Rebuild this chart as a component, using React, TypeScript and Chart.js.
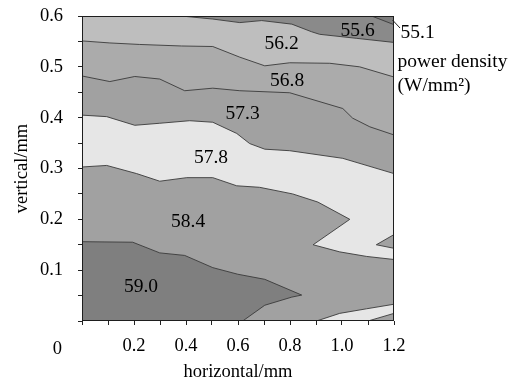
import React, { useEffect, useRef } from 'react';
import { Chart, registerables } from 'chart.js';

Chart.register(...registerables);

type P = [number, number];

// axis ranges (mm)
const X_MIN = 0;
const X_MAX = 1.2;
const Y_MIN = 0;
const Y_MAX = 0.6;

// tick labels
const xTickLabels = ['0.2', '0.4', '0.6', '0.8', '1.0', '1.2'];
const yTickLabels = ['0.1', '0.2', '0.3', '0.4', '0.5', '0.6'];
const originLabel = '0';

// contour levels (W/mm^2) and fill colours
const levels = ['55.1', '55.6', '56.2', '56.8', '57.3', '57.8', '58.4', '59.0'];
const levelColors = ['#7d7d7d', '#8a8a8a', '#bebebe', '#ababab', '#a1a1a1', '#e6e6e6', '#a1a1a1', '#7f7f7f'];

// contour boundary lines [horizontal, vertical]
const line551: P[] = [[1.114, 0.6], [1.2, 0.583]];
const line556: P[] = [[0.382, 0.6], [0.503, 0.594], [0.607, 0.587], [0.691, 0.591], [0.807, 0.584], [0.883, 0.569], [0.914, 0.564], [1.057, 0.556], [1.2, 0.548]];
const line562: P[] = [[0, 0.551], [0.107, 0.547], [0.222, 0.544], [0.383, 0.541], [0.503, 0.54], [0.607, 0.519], [0.703, 0.502], [0.799, 0.508], [0.953, 0.507], [1.068, 0.5], [1.2, 0.48]];
const line568: P[] = [[0, 0.482], [0.107, 0.471], [0.203, 0.481], [0.299, 0.476], [0.395, 0.453], [0.503, 0.458], [0.607, 0.453], [0.799, 0.449], [1.003, 0.418], [1.041, 0.399], [1.107, 0.382], [1.2, 0.366]];
const line573: P[] = [[0, 0.405], [0.095, 0.402], [0.203, 0.385], [0.299, 0.389], [0.414, 0.394], [0.503, 0.391], [0.595, 0.369], [0.645, 0.349], [0.703, 0.338], [0.799, 0.335], [1.003, 0.32], [1.2, 0.29]];
const line578: P[] = [[0, 0.303], [0.095, 0.306], [0.21, 0.29], [0.299, 0.275], [0.403, 0.282], [0.503, 0.282], [0.595, 0.266], [0.683, 0.263], [0.81, 0.25], [0.907, 0.234], [1.03, 0.2], [0.889, 0.15], [0.991, 0.136], [1.095, 0.127], [1.2, 0.121]];
const line584: P[] = [[0, 0.156], [0.195, 0.155], [0.299, 0.134], [0.395, 0.129], [0.503, 0.105], [0.599, 0.092], [0.703, 0.082], [0.845, 0.051], [0.807, 0.047], [0.703, 0.031], [0.618, 0]];
const lineIsland578: P[] = [[0.902, 0], [0.991, 0.015], [1.094, 0.024], [1.2, 0.033]];
const lineCorner573: P[] = [[1.1, 0], [1.2, 0.015]];
const lineWedge584: P[] = [[1.2, 0.17], [1.132, 0.15], [1.2, 0.143]];

// in-plot level labels
const labelText = ['55.6', '56.2', '56.8', '57.3', '57.8', '58.4', '59.0'];
const labelX = [1.06, 0.768, 0.789, 0.618, 0.496, 0.408, 0.227];
const labelY = [0.5715, 0.5443, 0.472, 0.407, 0.32, 0.195, 0.0677];

const outsideLevel = '55.1';
const legendTitle = ['power density', '(W/mm²)'];
const xTitle = 'horizontal/mm';
const yTitle = 'vertical/mm';

const FONT = "'Liberation Serif', 'Times New Roman', serif";
const FS = 18.5;
const FS_LABEL = 19.5;

const TL: P = [X_MIN, Y_MAX];
const TR: P = [X_MAX, Y_MAX];
const BR: P = [X_MAX, Y_MIN];
const BL: P = [X_MIN, Y_MIN];

const toXY = (pts: P[]) => pts.map(([x, y]) => ({ x, y }));

// painter's layers: back to front
const layers: { pts: P[]; color: string }[] = [
  { pts: [BL, BR, TR, TL], color: levelColors[7] },
  { pts: [...line584, BR, TR, TL], color: levelColors[6] },
  { pts: [...line578, TR, TL], color: levelColors[5] },
  { pts: [...line573, TR, TL], color: levelColors[4] },
  { pts: [...line568, TR, TL], color: levelColors[3] },
  { pts: [...line562, TR, TL], color: levelColors[2] },
  { pts: [...line556, TR], color: levelColors[1] },
  { pts: [...line551, TR], color: levelColors[0] },
  { pts: [...lineIsland578, BR], color: levelColors[5] },
  { pts: [...lineCorner573, BR], color: levelColors[4] },
  { pts: lineWedge584, color: levelColors[6] },
];

const contourLines: P[][] = [line551, line556, line562, line568, line573, line578, line584, lineIsland578, lineCorner573, lineWedge584];

const textPlugin = {
  id: 'contourText',
  afterDatasetsDraw(chart: any) {
    const { ctx, chartArea: a, scales } = chart;
    const xs = scales.x;
    const ys = scales.y;
    ctx.save();
    ctx.strokeStyle = '#1e1e1e';
    ctx.lineWidth = 1;
    const l = Math.round(a.left) + 0.5;
    const t = Math.round(a.top) + 0.5;
    const r = Math.round(a.right) - 0.5;
    const b = Math.round(a.bottom) - 0.5;
    ctx.strokeRect(l, t, r - l, b - t);

    ctx.font = `${FS_LABEL}px ${FONT}`;
    ctx.fillStyle = '#000';
    ctx.textAlign = 'center';
    ctx.textBaseline = 'middle';
    labelText.forEach((txt, i) => {
      ctx.fillText(txt, xs.getPixelForValue(labelX[i]), ys.getPixelForValue(labelY[i]));
    });

    ctx.textAlign = 'left';
    ctx.textBaseline = 'alphabetic';
    ctx.fillText(outsideLevel, a.right + 6.5, a.top + 22);
    ctx.beginPath();
    ctx.moveTo(a.right - 1.5, a.top + 4);
    ctx.lineTo(a.right + 6, a.top + 12);
    ctx.stroke();
    ctx.fillText(legendTitle[0], a.right + 3.5, a.top + 50.5);
    ctx.fillText(legendTitle[1], a.right + 3.5, a.top + 75);

    ctx.font = `${FS}px ${FONT}`;
    ctx.textAlign = 'center';
    ctx.fillText(originLabel, xs.getPixelForValue(X_MIN) - 24.6, a.bottom + 32.5);
    ctx.restore();
  },
};

export default function App() {
  const ref = useRef<HTMLCanvasElement>(null);
  useEffect(() => {
    if (!ref.current) return;
    const datasets: any[] = [];
    contourLines.forEach((pts) => {
      datasets.push({
        data: toXY(pts),
        showLine: true,
        fill: false,
        borderColor: '#3a3a3a',
        borderWidth: 0.9,
        pointRadius: 0,
        tension: 0,
        order: 0,
      });
    });
    layers.forEach((ly, i) => {
      datasets.push({
        data: toXY(ly.pts),
        showLine: true,
        fill: 'shape',
        backgroundColor: ly.color,
        borderWidth: 0,
        borderColor: ly.color,
        pointRadius: 0,
        tension: 0,
        order: layers.length + 1 - i,
      });
    });
    const tickFont = { family: FONT, size: FS };
    const chart = new Chart(ref.current, {
      type: 'scatter',
      data: { datasets },
      plugins: [textPlugin],
      options: {
        animation: false,
        responsive: true,
        maintainAspectRatio: false,
        layout: { padding: { left: 0, right: 123, top: 16, bottom: 0 } },
        plugins: { legend: { display: false }, tooltip: { enabled: false } },
        scales: {
          x: {
            type: 'linear',
            min: X_MIN,
            max: X_MAX,
            afterFit: (s: any) => { s.height = 64; s.paddingLeft = 0; s.paddingRight = 0; },
            ticks: {
              stepSize: 0.1,
              autoSkip: false,
              maxRotation: 0,
              color: '#000',
              font: tickFont,
              padding: 10,
              callback: (v: any) => {
                const t = Number(v).toFixed(1);
                return xTickLabels.includes(t) ? t : '';
              },
            },
            grid: { drawOnChartArea: false, drawTicks: true, tickLength: 4, color: '#222' },
            border: { display: false },
            title: { display: true, text: xTitle, color: '#000', font: tickFont, padding: { top: 0, bottom: 2 } },
          },
          y: {
            type: 'linear',
            min: Y_MIN,
            max: Y_MAX,
            afterFit: (s: any) => { s.width = 82; s.paddingTop = 0; s.paddingBottom = 0; },
            ticks: {
              stepSize: 0.05,
              autoSkip: false,
              color: '#000',
              font: tickFont,
              padding: 15,
              callback: (v: any) => {
                const n = Number(v);
                if (Math.abs(n * 10 - Math.round(n * 10)) > 1e-6) return '';
                const t = n.toFixed(1);
                return yTickLabels.includes(t) ? t : '';
              },
            },
            grid: { drawOnChartArea: false, drawTicks: true, tickLength: 4, color: '#222' },
            border: { display: false },
            title: { display: true, text: yTitle, color: '#000', font: tickFont, padding: { top: 11, bottom: 0 } },
          },
        },
      },
    });
    return () => chart.destroy();
  }, []);
  return (
    <div style={{ position: 'fixed', left: 0, top: 0, width: 517, height: 385, background: '#fff' }}>
      <canvas ref={ref} />
    </div>
  );
}
